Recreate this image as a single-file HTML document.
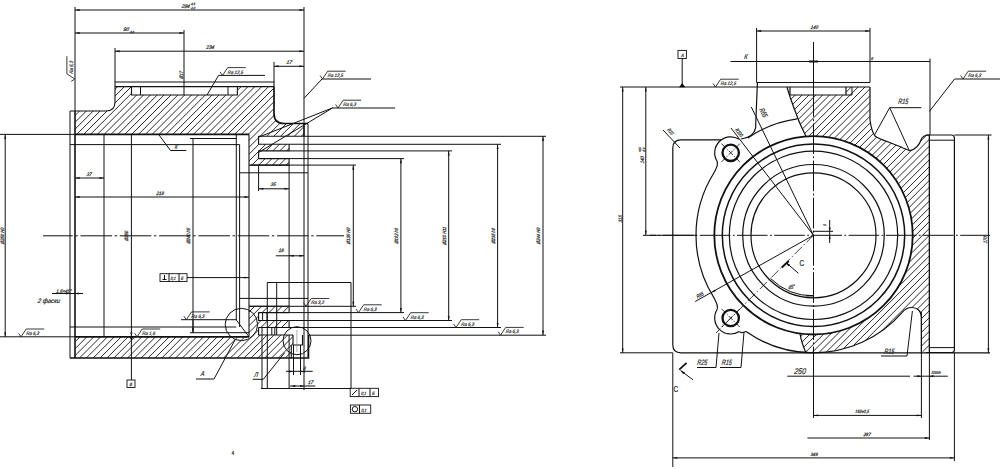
<!DOCTYPE html><html><head><meta charset="utf-8"><style>html,body{margin:0;padding:0;background:#fff;width:1000px;height:469px;overflow:hidden}svg{display:block;font-family:"Liberation Sans",sans-serif}</style></head><body><svg width="1000" height="469" viewBox="0 0 1000 469"><defs><clipPath id="c1"><path d="M75,111 L106,111 Q115,111 115,102 L115,86.6 L131.5,86.6 L131.5,95 L237.4,95 L237.4,86.6 L274,86.6 L274,113.5 Q274,123.5 284,123.5 L304,123.5 L304,136.3 L258.6,136.3 L258.6,144.3 L289.1,144.3 L289.1,150.9 L258.6,150.9 L258.6,158.6 L289.1,158.6 L289.1,165.1 L249,165.1 L249,134.4 L75,134.4 Z"/></clipPath><clipPath id="c2"><path d="M75,336.8 L249,336.8 L249,306.3 L289.1,306.3 L289.1,312.6 L258.6,312.6 L258.6,320.5 L289.1,320.5 L289.1,327.5 L258.6,327.5 L258.6,335 L293,335 L293,345 L291.3,345 L291.3,358 L75,358 Z"/></clipPath><clipPath id="c3"><path d="M787,87 L790,95 L846,95 L846,87 L870,87 L870,120 C871,128 872,132 875,136 C880,140 893,143 903,148 L910,150.7 C916,149 919,146 921,140 C922,137 924,135 929.4,135 L929.4,353 L926,353 C923,353 921.4,351 921.4,348 L921.4,317 C921.4,311 917,307.5 912,307.5 C907,307.5 904,310 902,312.6 A117.5,117.5 0 0 1 813.5,352.8 L806,353 C803,346 801,340 800,333.58 A99.2,99.2 0 1 0 806,136.38 C802,128 798,120 797,116 C794,108 790,98 787,87 Z"/></clipPath></defs><rect width="1000" height="469" fill="#fff"/><line x1="75" y1="7" x2="75" y2="111" stroke="#111" stroke-width="1.0"/>
<line x1="304" y1="7" x2="304" y2="123.5" stroke="#111" stroke-width="1.0"/>
<line x1="75" y1="10" x2="304" y2="10" stroke="#111" stroke-width="1.0"/>
<polygon points="75,10 79.60,9.05 79.60,10.95" fill="#111"/>
<polygon points="304,10 299.40,10.95 299.40,9.05" fill="#111"/>
<text x="0" y="0" font-size="5.2" text-anchor="middle" fill="#333" stroke="#333" stroke-width="0.25" style="font-style:italic;" transform="translate(185.5 7.8) scale(0.95 1) skewX(-10)">284</text>
<text x="0" y="0" font-size="3.2" text-anchor="start" fill="#333" stroke="#333" stroke-width="0.25" style="font-style:italic;" transform="translate(190.5 4.8) scale(0.82 1) skewX(-10)">-0,5</text>
<text x="0" y="0" font-size="3.2" text-anchor="start" fill="#333" stroke="#333" stroke-width="0.25" style="font-style:italic;" transform="translate(190.5 9.3) scale(0.82 1) skewX(-10)">-1,0</text>
<line x1="75" y1="33" x2="184" y2="33" stroke="#111" stroke-width="1.0"/>
<polygon points="75,33 79.60,32.05 79.60,33.95" fill="#111"/>
<polygon points="184,33 179.40,33.95 179.40,32.05" fill="#111"/>
<line x1="184" y1="30" x2="184" y2="95" stroke="#111" stroke-width="1.0"/>
<text x="0" y="0" font-size="5.2" text-anchor="middle" fill="#333" stroke="#333" stroke-width="0.25" style="font-style:italic;" transform="translate(126 31) scale(0.95 1) skewX(-10)">90</text>
<text x="0" y="0" font-size="3.2" text-anchor="start" fill="#333" stroke="#333" stroke-width="0.25" style="font-style:italic;" transform="translate(129.5 32.5) scale(0.82 1) skewX(-10)">-0,4</text>
<line x1="115" y1="51.2" x2="304" y2="51.2" stroke="#111" stroke-width="1.0"/>
<polygon points="115,51.2 119.60,50.25 119.60,52.15" fill="#111"/>
<polygon points="304,51.2 299.40,52.15 299.40,50.25" fill="#111"/>
<line x1="115" y1="48" x2="115" y2="82" stroke="#111" stroke-width="1.0"/>
<text x="0" y="0" font-size="5.2" text-anchor="middle" fill="#333" stroke="#333" stroke-width="0.25" style="font-style:italic;" transform="translate(210 49) scale(0.95 1) skewX(-10)">234</text>
<line x1="274" y1="66.3" x2="304" y2="66.3" stroke="#111" stroke-width="1.0"/>
<polygon points="274,66.3 278.60,65.35 278.60,67.25" fill="#111"/>
<polygon points="304,66.3 299.40,67.25 299.40,65.35" fill="#111"/>
<line x1="274" y1="62" x2="274" y2="82" stroke="#111" stroke-width="1.0"/>
<text x="0" y="0" font-size="5.2" text-anchor="middle" fill="#333" stroke="#333" stroke-width="0.25" style="font-style:italic;" transform="translate(289 64) scale(0.95 1) skewX(-10)">17</text>
<text x="0" y="0" font-size="5" text-anchor="start" fill="#333" stroke="#333" stroke-width="0.25" style="font-style:italic;" transform="translate(183 79) rotate(-90) scale(0.82 1) skewX(-10)">Ø17</text>
<g transform="rotate(-90 74.7 79)"><polyline points="72.3,75.5 74.7,79 79.9,71.2 97.5,71.2" fill="none" stroke="#222" stroke-width="0.9"/><text x="0" y="0" font-size="4.9" style="font-style:italic" fill="#333" stroke="#333" stroke-width="0.2" transform="translate(79.7 77.1) scale(0.9 1) skewX(-10)">Ra 6,3</text></g>
<path clip-path="url(#c1)" d="M-450.64,600L249.36,-100M-443.78,600L256.22,-100M-436.92,600L263.08,-100M-430.06,600L269.94,-100M-423.20,600L276.80,-100M-416.34,600L283.66,-100M-409.48,600L290.52,-100M-402.62,600L297.38,-100M-395.76,600L304.24,-100M-388.90,600L311.10,-100M-382.04,600L317.96,-100M-375.18,600L324.82,-100M-368.32,600L331.68,-100M-361.46,600L338.54,-100M-354.60,600L345.40,-100M-347.74,600L352.26,-100M-340.88,600L359.12,-100M-334.02,600L365.98,-100M-327.16,600L372.84,-100M-320.30,600L379.70,-100M-313.44,600L386.56,-100M-306.58,600L393.42,-100M-299.72,600L400.28,-100M-292.86,600L407.14,-100M-286.00,600L414.00,-100M-279.14,600L420.86,-100M-272.28,600L427.72,-100M-265.42,600L434.58,-100M-258.56,600L441.44,-100M-251.70,600L448.30,-100M-244.84,600L455.16,-100M-237.98,600L462.02,-100M-231.12,600L468.88,-100M-224.26,600L475.74,-100M-217.40,600L482.60,-100M-210.54,600L489.46,-100M-203.68,600L496.32,-100M-196.82,600L503.18,-100M-189.96,600L510.04,-100M-183.10,600L516.90,-100M-176.24,600L523.76,-100M-169.38,600L530.62,-100M-162.52,600L537.48,-100M-155.66,600L544.34,-100M-148.80,600L551.20,-100M-141.94,600L558.06,-100M-135.08,600L564.92,-100M-128.22,600L571.78,-100M-121.36,600L578.64,-100M-114.50,600L585.50,-100" stroke="#2a2a2a" stroke-width="1.0" fill="none"/>
<path clip-path="url(#c2)" d="M-224.26,600L475.74,-100M-217.40,600L482.60,-100M-210.54,600L489.46,-100M-203.68,600L496.32,-100M-196.82,600L503.18,-100M-189.96,600L510.04,-100M-183.10,600L516.90,-100M-176.24,600L523.76,-100M-169.38,600L530.62,-100M-162.52,600L537.48,-100M-155.66,600L544.34,-100M-148.80,600L551.20,-100M-141.94,600L558.06,-100M-135.08,600L564.92,-100M-128.22,600L571.78,-100M-121.36,600L578.64,-100M-114.50,600L585.50,-100M-107.64,600L592.36,-100M-100.78,600L599.22,-100M-93.92,600L606.08,-100M-87.06,600L612.94,-100M-80.20,600L619.80,-100M-73.34,600L626.66,-100M-66.48,600L633.52,-100M-59.62,600L640.38,-100M-52.76,600L647.24,-100M-45.90,600L654.10,-100M-39.04,600L660.96,-100M-32.18,600L667.82,-100M-25.32,600L674.68,-100M-18.46,600L681.54,-100M-11.60,600L688.40,-100M-4.74,600L695.26,-100M2.12,600L702.12,-100M8.98,600L708.98,-100M15.84,600L715.84,-100M22.70,600L722.70,-100M29.56,600L729.56,-100M36.42,600L736.42,-100M43.28,600L743.28,-100M50.14,600L750.14,-100M57.00,600L757.00,-100M63.86,600L763.86,-100M70.72,600L770.72,-100M77.58,600L777.58,-100M84.44,600L784.44,-100" stroke="#2a2a2a" stroke-width="1.0" fill="none"/>
<line x1="70" y1="111" x2="70" y2="358" stroke="#111" stroke-width="1.0"/>
<path d="M70,111 L106,111 Q115,111 115,102 L115,86.6" fill="none" stroke="#111" stroke-width="1.1"/>
<path d="M115,86.6 L115,82 L274,82 L274,86.6" fill="none" stroke="#111" stroke-width="1.1"/>
<path d="M274,86.6 L274,113.5 Q274,123.5 284,123.5 L308,123.5" fill="none" stroke="#111" stroke-width="1.7"/>
<path d="M70,358 L308.6,358 L308.6,335" fill="none" stroke="#111" stroke-width="1.4"/>
<line x1="115" y1="86.6" x2="274" y2="86.6" stroke="#111" stroke-width="1.1"/>
<polyline points="131.5,86.6 131.5,95 237.4,95 237.4,86.6" fill="none" stroke="#111" stroke-width="1.1" stroke-linejoin="round"/>
<line x1="140.5" y1="86.6" x2="140.5" y2="95" stroke="#111" stroke-width="1.0"/>
<line x1="228" y1="86.6" x2="228" y2="95" stroke="#111" stroke-width="1.0"/>
<line x1="75" y1="111" x2="75" y2="358" stroke="#111" stroke-width="1.6"/>
<line x1="75" y1="134.4" x2="249" y2="134.4" stroke="#111" stroke-width="1.7"/>
<line x1="75" y1="336.8" x2="249" y2="336.8" stroke="#111" stroke-width="1.7"/>
<line x1="70" y1="144.6" x2="239.6" y2="144.6" stroke="#111" stroke-width="1.0"/>
<line x1="70" y1="327" x2="236.3" y2="327" stroke="#111" stroke-width="1.0"/>
<line x1="190" y1="138.5" x2="236.3" y2="138.5" stroke="#111" stroke-width="1.0"/>
<line x1="190" y1="332.7" x2="249" y2="332.7" stroke="#111" stroke-width="1.0"/>
<line x1="236.3" y1="134.4" x2="236.3" y2="320" stroke="#111" stroke-width="1.0"/>
<line x1="239.6" y1="144.6" x2="239.6" y2="327" stroke="#111" stroke-width="1.0"/>
<line x1="249" y1="134.4" x2="249" y2="336.8" stroke="#111" stroke-width="1.1"/>
<line x1="236.3" y1="320" x2="249" y2="336.8" stroke="#111" stroke-width="1.0"/>
<line x1="104" y1="134.4" x2="104" y2="336.8" stroke="#111" stroke-width="1.0"/>
<line x1="131.4" y1="134.4" x2="131.4" y2="380" stroke="#111" stroke-width="1.0"/>
<line x1="193" y1="138.5" x2="193" y2="332.7" stroke="#111" stroke-width="1.0"/>
<line x1="304" y1="123.5" x2="304" y2="136.3" stroke="#111" stroke-width="1.7"/>
<line x1="308" y1="123.5" x2="308" y2="358" stroke="#111" stroke-width="1.0"/>
<line x1="304" y1="136.3" x2="304" y2="390" stroke="#111" stroke-width="1.0"/>
<polyline points="304,136.3 258.6,136.3 258.6,144.3 304,144.3" fill="none" stroke="#111" stroke-width="1.1" stroke-linejoin="round"/>
<polyline points="289.1,144.3 289.1,150.9 258.6,150.9 258.6,158.6 289.1,158.6 289.1,165.1 249,165.1" fill="none" stroke="#111" stroke-width="1.1" stroke-linejoin="round"/>
<line x1="258.6" y1="165.1" x2="258.6" y2="191" stroke="#111" stroke-width="1.0"/>
<line x1="239.6" y1="172.8" x2="308" y2="172.8" stroke="#111" stroke-width="1.0"/>
<line x1="239.6" y1="298.4" x2="308" y2="298.4" stroke="#111" stroke-width="1.0"/>
<line x1="289.1" y1="165.1" x2="289.1" y2="306.3" stroke="#111" stroke-width="1.0"/>
<polyline points="249,306.3 289.1,306.3 289.1,312.6 258.6,312.6 258.6,320.5 289.1,320.5 289.1,327.5" fill="none" stroke="#111" stroke-width="1.1" stroke-linejoin="round"/>
<polyline points="308.6,327.5 258.6,327.5 258.6,335 293,335" fill="none" stroke="#111" stroke-width="1.1" stroke-linejoin="round"/>
<polyline points="293,335 293,345 302.5,345 302.5,335" fill="none" stroke="#111" stroke-width="1.1" stroke-linejoin="round"/>
<line x1="291.3" y1="345" x2="291.3" y2="358" stroke="#111" stroke-width="1.1"/>
<line x1="262.6" y1="312.6" x2="262.6" y2="320.5" stroke="#111" stroke-width="1.0"/>
<line x1="267" y1="312.6" x2="267" y2="320.5" stroke="#111" stroke-width="1.0"/>
<line x1="271.8" y1="327.5" x2="271.8" y2="335" stroke="#111" stroke-width="1.0"/>
<line x1="274.8" y1="327.5" x2="274.8" y2="335" stroke="#111" stroke-width="1.0"/>
<line x1="262" y1="327.5" x2="262" y2="388.5" stroke="#111" stroke-width="1.0"/>
<line x1="296.9" y1="330" x2="296.9" y2="352" stroke="#777" stroke-width="0.6"/>
<line x1="304" y1="136.3" x2="546" y2="136.3" stroke="#111" stroke-width="1.0"/>
<line x1="304" y1="144.3" x2="501" y2="144.3" stroke="#111" stroke-width="1.0"/>
<line x1="289.1" y1="150.9" x2="452" y2="150.9" stroke="#111" stroke-width="1.0"/>
<line x1="289.1" y1="158.6" x2="404" y2="158.6" stroke="#111" stroke-width="1.0"/>
<line x1="250.5" y1="165.1" x2="356" y2="165.1" stroke="#111" stroke-width="1.0"/>
<line x1="249" y1="306.3" x2="356" y2="306.3" stroke="#111" stroke-width="1.0"/>
<line x1="289.1" y1="312.6" x2="404" y2="312.6" stroke="#111" stroke-width="1.0"/>
<line x1="289.1" y1="320.5" x2="452" y2="320.5" stroke="#111" stroke-width="1.0"/>
<line x1="308.6" y1="327.5" x2="501" y2="327.5" stroke="#111" stroke-width="1.0"/>
<line x1="308.6" y1="335.2" x2="546" y2="335.2" stroke="#111" stroke-width="1.0"/>
<line x1="353.3" y1="165.1" x2="353.3" y2="306.3" stroke="#111" stroke-width="1.0"/>
<polygon points="353.3,165.1 354.25,169.70 352.35,169.70" fill="#111"/>
<polygon points="353.3,306.3 352.35,301.70 354.25,301.70" fill="#111"/>
<line x1="400.9" y1="158.6" x2="400.9" y2="312.6" stroke="#111" stroke-width="1.0"/>
<polygon points="400.9,158.6 401.85,163.20 399.95,163.20" fill="#111"/>
<polygon points="400.9,312.6 399.95,308.00 401.85,308.00" fill="#111"/>
<line x1="448.7" y1="150.9" x2="448.7" y2="320.5" stroke="#111" stroke-width="1.0"/>
<polygon points="448.7,150.9 449.65,155.50 447.75,155.50" fill="#111"/>
<polygon points="448.7,320.5 447.75,315.90 449.65,315.90" fill="#111"/>
<line x1="497.6" y1="144.3" x2="497.6" y2="327.5" stroke="#111" stroke-width="1.0"/>
<polygon points="497.6,144.3 498.55,148.90 496.65,148.90" fill="#111"/>
<polygon points="497.6,327.5 496.65,322.90 498.55,322.90" fill="#111"/>
<line x1="543" y1="136.3" x2="543" y2="335.2" stroke="#111" stroke-width="1.0"/>
<polygon points="543,136.3 543.95,140.90 542.05,140.90" fill="#111"/>
<polygon points="543,335.2 542.05,330.60 543.95,330.60" fill="#111"/>
<text x="0" y="0" font-size="4.8" text-anchor="middle" fill="#333" stroke="#333" stroke-width="0.25" style="font-style:italic;" transform="translate(350 236) rotate(-90) scale(0.85 1) skewX(-10)">Ø135 H9</text>
<text x="0" y="0" font-size="4.8" text-anchor="middle" fill="#333" stroke="#333" stroke-width="0.25" style="font-style:italic;" transform="translate(398 236) rotate(-90) scale(0.85 1) skewX(-10)">Ø192 h9</text>
<text x="0" y="0" font-size="4.8" text-anchor="middle" fill="#333" stroke="#333" stroke-width="0.25" style="font-style:italic;" transform="translate(446 236) rotate(-90) scale(0.85 1) skewX(-10)">Ø210 H11</text>
<text x="0" y="0" font-size="4.8" text-anchor="middle" fill="#333" stroke="#333" stroke-width="0.25" style="font-style:italic;" transform="translate(494.5 236) rotate(-90) scale(0.85 1) skewX(-10)">Ø235 h9</text>
<text x="0" y="0" font-size="4.8" text-anchor="middle" fill="#333" stroke="#333" stroke-width="0.25" style="font-style:italic;" transform="translate(540 236) rotate(-90) scale(0.85 1) skewX(-10)">Ø244 H9</text>
<line x1="0" y1="134.4" x2="75" y2="134.4" stroke="#111" stroke-width="1.0"/>
<line x1="5.2" y1="134.4" x2="5.2" y2="336.8" stroke="#111" stroke-width="1.0"/>
<polygon points="5.2,134.4 6.15,139.00 4.25,139.00" fill="#111"/>
<polygon points="5.2,336.8 4.25,332.20 6.15,332.20" fill="#111"/>
<text x="0" y="0" font-size="4.8" text-anchor="middle" fill="#333" stroke="#333" stroke-width="0.25" style="font-style:italic;" transform="translate(4 236) rotate(-90) scale(0.85 1) skewX(-10)">Ø250 H9</text>
<text x="0" y="0" font-size="4.8" text-anchor="middle" fill="#333" stroke="#333" stroke-width="0.25" style="font-style:italic;" transform="translate(128 236) rotate(-90) scale(0.85 1) skewX(-10)">Ø250</text>
<text x="0" y="0" font-size="4.8" text-anchor="middle" fill="#333" stroke="#333" stroke-width="0.25" style="font-style:italic;" transform="translate(190 236) rotate(-90) scale(0.85 1) skewX(-10)">Ø240 h5</text>
<line x1="75" y1="178" x2="104" y2="178" stroke="#111" stroke-width="1.0"/>
<polygon points="75,178 79.60,177.05 79.60,178.95" fill="#111"/>
<polygon points="104,178 99.40,178.95 99.40,177.05" fill="#111"/>
<text x="0" y="0" font-size="5" text-anchor="middle" fill="#333" stroke="#333" stroke-width="0.25" style="font-style:italic;" transform="translate(89 175.5) scale(0.9 1) skewX(-10)">37</text>
<line x1="75" y1="197" x2="249" y2="197" stroke="#111" stroke-width="1.0"/>
<polygon points="75,197 79.60,196.05 79.60,197.95" fill="#111"/>
<polygon points="249,197 244.40,197.95 244.40,196.05" fill="#111"/>
<text x="0" y="0" font-size="5" text-anchor="middle" fill="#333" stroke="#333" stroke-width="0.25" style="font-style:italic;" transform="translate(160 194.5) scale(0.9 1) skewX(-10)">218</text>
<line x1="258.8" y1="188.8" x2="289.1" y2="188.8" stroke="#111" stroke-width="1.0"/>
<polygon points="258.8,188.8 263.40,187.85 263.40,189.75" fill="#111"/>
<polygon points="289.1,188.8 284.50,189.75 284.50,187.85" fill="#111"/>
<text x="0" y="0" font-size="5" text-anchor="middle" fill="#333" stroke="#333" stroke-width="0.25" style="font-style:italic;" transform="translate(273 186.3) scale(0.9 1) skewX(-10)">35</text>
<line x1="275.8" y1="255.8" x2="304" y2="255.8" stroke="#111" stroke-width="1.0"/>
<polygon points="289.1,255.8 293.70,254.85 293.70,256.75" fill="#111"/>
<polygon points="304,255.8 299.40,256.75 299.40,254.85" fill="#111"/>
<text x="0" y="0" font-size="5" text-anchor="middle" fill="#333" stroke="#333" stroke-width="0.25" style="font-style:italic;" transform="translate(281 252) scale(0.9 1) skewX(-10)">18</text>
<line x1="43" y1="235.8" x2="344" y2="235.8" stroke="#111" stroke-width="1.0" stroke-dasharray="31.5,2.7,2.4,2.7" stroke-dashoffset="1.8"/>
<line x1="52" y1="293.5" x2="83" y2="293.5" stroke="#111" stroke-width="1.0"/>
<polygon points="70,293.5 66.00,294.50 66.00,292.50" fill="#111"/>
<polygon points="75,293.5 79.00,292.50 79.00,294.50" fill="#111"/>
<text x="0" y="0" font-size="5.2" text-anchor="start" fill="#333" stroke="#333" stroke-width="0.25" style="font-style:italic;" transform="translate(56 292.6) scale(0.85 1) skewX(-10)">1,6×45°</text>
<text x="0" y="0" font-size="6.5" text-anchor="start" fill="#333" stroke="#333" stroke-width="0.25" style="font-style:italic;" transform="translate(37.5 302.8) scale(0.92 1) skewX(-10)">2 фаски</text>
<rect x="160" y="273.7" width="27" height="7.8" fill="none" stroke="#111" stroke-width="0.9"/>
<line x1="169" y1="273.7" x2="169" y2="281.5" stroke="#111" stroke-width="1.0"/>
<line x1="179" y1="273.7" x2="179" y2="281.5" stroke="#111" stroke-width="1.0"/>
<line x1="162.5" y1="279.5" x2="166.5" y2="279.5" stroke="#111" stroke-width="1.0"/>
<line x1="164.5" y1="275" x2="164.5" y2="279.5" stroke="#111" stroke-width="1.0"/>
<text x="0" y="0" font-size="4.6" text-anchor="start" fill="#333" stroke="#333" stroke-width="0.25" style="font-style:italic;" transform="translate(170.5 280.2) scale(0.8 1) skewX(-10)">0,1</text>
<text x="0" y="0" font-size="4.6" text-anchor="start" fill="#333" stroke="#333" stroke-width="0.25" style="font-style:italic;" transform="translate(180.8 280.2) scale(0.8 1) skewX(-10)">Б</text>
<line x1="187" y1="277.6" x2="249" y2="277.6" stroke="#111" stroke-width="1.0"/>
<polygon points="249,277.6 244.40,278.55 244.40,276.65" fill="#111"/>
<rect x="127" y="380" width="8" height="7.5" fill="none" stroke="#111" stroke-width="0.9"/>
<text x="0" y="0" font-size="4.5" text-anchor="start" fill="#333" stroke="#333" stroke-width="0.25" style="font-style:italic;" transform="translate(129.5 386) scale(0.82 1) skewX(-10)">Б</text>
<polygon points="129.2,336.8 133.4,336.8 131.3,340.2" fill="#111"/>
<polygon points="131.4,336.5 130.30,332.50 132.50,332.50" fill="#111"/>
<line x1="0" y1="336.8" x2="75" y2="336.8" stroke="#111" stroke-width="1.0"/>
<g><polyline points="18.6,333.3 21,336.8 26.2,329.0 44.2,329.0" fill="none" stroke="#222" stroke-width="0.9"/><text x="0" y="0" font-size="4.9" style="font-style:italic" fill="#333" stroke="#333" stroke-width="0.2" transform="translate(26 334.90000000000003) scale(0.9 1) skewX(-10)">Ra 6,3</text></g>
<g><polyline points="134.6,333.3 137,336.8 142.2,329.0 160.2,329.0" fill="none" stroke="#222" stroke-width="0.9"/><text x="0" y="0" font-size="4.9" style="font-style:italic" fill="#333" stroke="#333" stroke-width="0.2" transform="translate(142 334.90000000000003) scale(0.9 1) skewX(-10)">Ra 1,6</text></g>
<line x1="181" y1="319.7" x2="236.3" y2="319.7" stroke="#111" stroke-width="1.0"/>
<g><polyline points="183.9,316.2 186.3,319.7 191.5,311.9 209.5,311.9" fill="none" stroke="#222" stroke-width="0.9"/><text x="0" y="0" font-size="4.9" style="font-style:italic" fill="#333" stroke="#333" stroke-width="0.2" transform="translate(191.3 317.8) scale(0.9 1) skewX(-10)">Ra 6,3</text></g>
<line x1="193" y1="320" x2="193" y2="332.7" stroke="#111" stroke-width="1.0"/>
<polygon points="193,332.7 192.05,328.10 193.95,328.10" fill="#111"/>
<circle cx="241.4" cy="324.5" r="16.2" fill="none" stroke="#111" stroke-width="1.0"/>
<line x1="235" y1="340" x2="214" y2="379" stroke="#111" stroke-width="1.0"/>
<line x1="196" y1="379" x2="214" y2="379" stroke="#111" stroke-width="1.0"/>
<text x="0" y="0" font-size="7" text-anchor="start" fill="#333" stroke="#333" stroke-width="0.25" style="font-style:italic;" transform="translate(200.5 376) scale(0.8 1) skewX(-10)">А</text>
<circle cx="297" cy="340.7" r="14" fill="none" stroke="#111" stroke-width="1.0"/>
<line x1="284.7" y1="352.7" x2="263.3" y2="379.3" stroke="#111" stroke-width="1.0"/>
<line x1="252.7" y1="379.3" x2="263.3" y2="379.3" stroke="#111" stroke-width="1.0"/>
<text x="0" y="0" font-size="7" text-anchor="start" fill="#333" stroke="#333" stroke-width="0.25" style="font-style:italic;" transform="translate(254 376.5) scale(0.8 1) skewX(-10)">Л</text>
<line x1="286" y1="371.3" x2="312.7" y2="371.3" stroke="#111" stroke-width="1.0"/>
<polygon points="293.5,371.5 288.90,372.45 288.90,370.55" fill="#111"/>
<polygon points="300.5,371.5 305.10,370.55 305.10,372.45" fill="#111"/>
<text x="0" y="0" font-size="5" text-anchor="start" fill="#333" stroke="#333" stroke-width="0.25" style="font-style:italic;" transform="translate(303 369.5) scale(0.9 1) skewX(-10)">8</text>
<line x1="293.5" y1="345" x2="293.5" y2="375" stroke="#111" stroke-width="1.0"/>
<line x1="300.5" y1="345" x2="300.5" y2="375" stroke="#111" stroke-width="1.0"/>
<line x1="290" y1="386" x2="315.3" y2="386" stroke="#111" stroke-width="1.0"/>
<polygon points="291.3,386 295.30,384.90 295.30,387.10" fill="#111"/>
<polygon points="304,386 300.00,387.10 300.00,384.90" fill="#111"/>
<text x="0" y="0" font-size="5" text-anchor="start" fill="#333" stroke="#333" stroke-width="0.25" style="font-style:italic;" transform="translate(308 383.5) scale(0.9 1) skewX(-10)">17</text>
<g><polyline points="303.6,302.8 306,306.3 311.2,298.5 329.2,298.5" fill="none" stroke="#222" stroke-width="0.9"/><text x="0" y="0" font-size="4.9" style="font-style:italic" fill="#333" stroke="#333" stroke-width="0.2" transform="translate(311 304.40000000000003) scale(0.9 1) skewX(-10)">Ra 3,2</text></g>
<g><polyline points="356.1,309.1 358.5,312.6 363.7,304.8 381.7,304.8" fill="none" stroke="#222" stroke-width="0.9"/><text x="0" y="0" font-size="4.9" style="font-style:italic" fill="#333" stroke="#333" stroke-width="0.2" transform="translate(363.5 310.70000000000005) scale(0.9 1) skewX(-10)">Ra 6,3</text></g>
<g><polyline points="403.1,317.0 405.5,320.5 410.7,312.7 428.7,312.7" fill="none" stroke="#222" stroke-width="0.9"/><text x="0" y="0" font-size="4.9" style="font-style:italic" fill="#333" stroke="#333" stroke-width="0.2" transform="translate(410.5 318.6) scale(0.9 1) skewX(-10)">Ra 6,3</text></g>
<g><polyline points="453.6,324.0 456,327.5 461.2,319.7 479.2,319.7" fill="none" stroke="#222" stroke-width="0.9"/><text x="0" y="0" font-size="4.9" style="font-style:italic" fill="#333" stroke="#333" stroke-width="0.2" transform="translate(461 325.6) scale(0.9 1) skewX(-10)">Ra 6,3</text></g>
<g><polyline points="498.1,331.7 500.5,335.2 505.7,327.4 523.7,327.4" fill="none" stroke="#222" stroke-width="0.9"/><text x="0" y="0" font-size="4.9" style="font-style:italic" fill="#333" stroke="#333" stroke-width="0.2" transform="translate(505.5 333.3) scale(0.9 1) skewX(-10)">Ra 6,3</text></g>
<polyline points="267.3,388.5 267.3,282.5 351,282.5 351,388.8" fill="none" stroke="#111" stroke-width="1.0" stroke-linejoin="round"/>
<line x1="276.7" y1="282.5" x2="276.7" y2="335" stroke="#111" stroke-width="1.0"/>
<line x1="289.1" y1="335" x2="289.1" y2="388.5" stroke="#111" stroke-width="1.0"/>
<rect x="350.2" y="388.3" width="28.3" height="8.3" fill="none" stroke="#111" stroke-width="0.9"/>
<line x1="359" y1="388.3" x2="359" y2="396.6" stroke="#111" stroke-width="1.0"/>
<line x1="370" y1="388.3" x2="370" y2="396.6" stroke="#111" stroke-width="1.0"/>
<line x1="352" y1="395" x2="357" y2="390" stroke="#111" stroke-width="1.0"/>
<text x="0" y="0" font-size="4.6" text-anchor="start" fill="#333" stroke="#333" stroke-width="0.25" style="font-style:italic;" transform="translate(361 395.3) scale(0.8 1) skewX(-10)">0,1</text>
<text x="0" y="0" font-size="4.6" text-anchor="start" fill="#333" stroke="#333" stroke-width="0.25" style="font-style:italic;" transform="translate(372 395.3) scale(0.8 1) skewX(-10)">Б</text>
<rect x="350.4" y="405" width="20.3" height="8.3" fill="none" stroke="#111" stroke-width="0.9"/>
<line x1="359.5" y1="405" x2="359.5" y2="413.3" stroke="#111" stroke-width="1.0"/>
<circle cx="354.9" cy="409.2" r="2.7" fill="none" stroke="#111" stroke-width="1.0"/>
<text x="0" y="0" font-size="4.6" text-anchor="start" fill="#333" stroke="#333" stroke-width="0.25" style="font-style:italic;" transform="translate(361.3 411.6) scale(0.8 1) skewX(-10)">0,1</text>
<line x1="261" y1="388.5" x2="350.2" y2="388.5" stroke="#111" stroke-width="1.0"/>
<line x1="304" y1="98.3" x2="322" y2="79" stroke="#111" stroke-width="1.0"/>
<line x1="322" y1="79" x2="371" y2="79" stroke="#111" stroke-width="1.0"/>
<g><polyline points="320.1,75.5 322.5,79 327.7,71.2 345.7,71.2" fill="none" stroke="#222" stroke-width="0.9"/><text x="0" y="0" font-size="4.9" style="font-style:italic" fill="#333" stroke="#333" stroke-width="0.2" transform="translate(327.5 77.1) scale(0.9 1) skewX(-10)">Ra 12,5</text></g>
<line x1="333" y1="108" x2="395" y2="108" stroke="#111" stroke-width="1.0"/>
<g><polyline points="335.6,104.5 338,108 343.2,100.2 361.2,100.2" fill="none" stroke="#222" stroke-width="0.9"/><text x="0" y="0" font-size="4.9" style="font-style:italic" fill="#333" stroke="#333" stroke-width="0.2" transform="translate(343 106.1) scale(0.9 1) skewX(-10)">Ra 6,3</text></g>
<line x1="332.8" y1="107.8" x2="259" y2="137" stroke="#111" stroke-width="1.0"/>
<line x1="332.8" y1="107.8" x2="259" y2="152.2" stroke="#111" stroke-width="1.0"/>
<line x1="207" y1="95" x2="218.6" y2="75.4" stroke="#111" stroke-width="1.0"/>
<line x1="218.6" y1="75.4" x2="265" y2="75.4" stroke="#111" stroke-width="1.0"/>
<g><polyline points="220.1,71.9 222.5,75.4 227.7,67.60000000000001 245.7,67.60000000000001" fill="none" stroke="#222" stroke-width="0.9"/><text x="0" y="0" font-size="4.9" style="font-style:italic" fill="#333" stroke="#333" stroke-width="0.2" transform="translate(227.5 73.5) scale(0.9 1) skewX(-10)">Ra 12,5</text></g>
<line x1="158.6" y1="134.4" x2="170.5" y2="150.5" stroke="#111" stroke-width="1.0"/>
<line x1="170.5" y1="150.5" x2="186.3" y2="150.5" stroke="#111" stroke-width="1.0"/>
<text x="0" y="0" font-size="6" text-anchor="start" fill="#333" stroke="#333" stroke-width="0.25" style="font-style:italic;" transform="translate(174.5 148.8) scale(0.8 1) skewX(-10)">К</text>
<text x="0" y="0" font-size="5" text-anchor="middle" fill="#333" stroke="#333" stroke-width="0.25" style="" transform="translate(233 455) scale(0.82 1)">4</text>
<line x1="756.6" y1="31" x2="870" y2="31" stroke="#111" stroke-width="1.0"/>
<polygon points="756.6,31 761.20,30.05 761.20,31.95" fill="#111"/>
<polygon points="870,31 865.40,31.95 865.40,30.05" fill="#111"/>
<text x="0" y="0" font-size="5" text-anchor="middle" fill="#333" stroke="#333" stroke-width="0.25" style="font-style:italic;" transform="translate(814.2 29.4) scale(0.86 1) skewX(-10)">140</text>
<line x1="756.6" y1="28" x2="756.6" y2="82.5" stroke="#111" stroke-width="1.0"/>
<line x1="870" y1="28" x2="870" y2="82.5" stroke="#111" stroke-width="1.0"/>
<line x1="730.5" y1="61.5" x2="930" y2="61.5" stroke="#111" stroke-width="1.0"/>
<line x1="930" y1="58.5" x2="930" y2="135" stroke="#111" stroke-width="1.0"/>
<text x="0" y="0" font-size="7" text-anchor="start" fill="#333" stroke="#333" stroke-width="0.25" style="font-style:italic;" transform="translate(744 59) scale(0.8 1) skewX(-10)">К</text>
<text x="0" y="0" font-size="5" text-anchor="start" fill="#333" stroke="#333" stroke-width="0.25" style="font-style:italic;" transform="translate(871 60) scale(0.82 1) skewX(-10)">к</text>
<line x1="809" y1="61.5" x2="818" y2="61.5" stroke="#111" stroke-width="2"/>
<rect x="678" y="50.4" width="8.4" height="8.1" fill="#fff" stroke="#111" stroke-width="0.9"/>
<text x="0" y="0" font-size="4.8" text-anchor="middle" fill="#333" stroke="#333" stroke-width="0.25" style="font-style:italic;" transform="translate(682.2 57) scale(0.82 1) skewX(-10)">А</text>
<line x1="682.2" y1="58.5" x2="682.2" y2="87" stroke="#111" stroke-width="1.0"/>
<polygon points="682.2,83 679,87.2 685.4,87.2" fill="#111"/>
<line x1="620" y1="87" x2="756.6" y2="87" stroke="#111" stroke-width="1.0"/>
<g><polyline points="713.1,83.5 715.5,87 720.7,79.2 738.7,79.2" fill="none" stroke="#222" stroke-width="0.9"/><text x="0" y="0" font-size="4.9" style="font-style:italic" fill="#333" stroke="#333" stroke-width="0.2" transform="translate(720.5 85.1) scale(0.9 1) skewX(-10)">Ra 12,5</text></g>
<line x1="622.7" y1="87" x2="622.7" y2="353" stroke="#111" stroke-width="1.0"/>
<polygon points="622.7,87 623.65,91.60 621.75,91.60" fill="#111"/>
<polygon points="622.7,353 621.75,348.40 623.65,348.40" fill="#111"/>
<text x="0" y="0" font-size="5" text-anchor="middle" fill="#333" stroke="#333" stroke-width="0.25" style="font-style:italic;" transform="translate(621.5 219) rotate(-90) scale(0.86 1) skewX(-10)">315</text>
<line x1="645.8" y1="87" x2="645.8" y2="235" stroke="#111" stroke-width="1.0"/>
<polygon points="645.8,87 646.75,91.60 644.85,91.60" fill="#111"/>
<polygon points="645.8,235 644.85,230.40 646.75,230.40" fill="#111"/>
<text x="0" y="0" font-size="5" text-anchor="middle" fill="#333" stroke="#333" stroke-width="0.25" style="font-style:italic;" transform="translate(644 160) rotate(-90) scale(0.86 1) skewX(-10)">140</text>
<text x="0" y="0" font-size="3.2" text-anchor="middle" fill="#333" stroke="#333" stroke-width="0.25" style="font-style:italic;" transform="translate(640.5 150) rotate(-90) scale(0.82 1) skewX(-10)">+0,5</text>
<text x="0" y="0" font-size="3.2" text-anchor="middle" fill="#333" stroke="#333" stroke-width="0.25" style="font-style:italic;" transform="translate(644.5 150) rotate(-90) scale(0.82 1) skewX(-10)">-0,3</text>
<path clip-path="url(#c3)" d="M249.08,600L949.08,-100M255.94,600L955.94,-100M262.80,600L962.80,-100M269.66,600L969.66,-100M276.52,600L976.52,-100M283.38,600L983.38,-100M290.24,600L990.24,-100M297.10,600L997.10,-100M303.96,600L1003.96,-100M310.82,600L1010.82,-100M317.68,600L1017.68,-100M324.54,600L1024.54,-100M331.40,600L1031.40,-100M338.26,600L1038.26,-100M345.12,600L1045.12,-100M351.98,600L1051.98,-100M358.84,600L1058.84,-100M365.70,600L1065.70,-100M372.56,600L1072.56,-100M379.42,600L1079.42,-100M386.28,600L1086.28,-100M393.14,600L1093.14,-100M400.00,600L1100.00,-100M406.86,600L1106.86,-100M413.72,600L1113.72,-100M420.58,600L1120.58,-100M427.44,600L1127.44,-100M434.30,600L1134.30,-100M441.16,600L1141.16,-100M448.02,600L1148.02,-100M454.88,600L1154.88,-100M461.74,600L1161.74,-100M468.60,600L1168.60,-100M475.46,600L1175.46,-100M482.32,600L1182.32,-100M489.18,600L1189.18,-100M496.04,600L1196.04,-100M502.90,600L1202.90,-100M509.76,600L1209.76,-100M516.62,600L1216.62,-100M523.48,600L1223.48,-100M530.34,600L1230.34,-100M537.20,600L1237.20,-100M544.06,600L1244.06,-100M550.92,600L1250.92,-100M557.78,600L1257.78,-100M564.64,600L1264.64,-100M571.50,600L1271.50,-100M578.36,600L1278.36,-100M585.22,600L1285.22,-100M592.08,600L1292.08,-100M598.94,600L1298.94,-100M605.80,600L1305.80,-100M612.66,600L1312.66,-100M619.52,600L1319.52,-100M626.38,600L1326.38,-100M633.24,600L1333.24,-100M640.10,600L1340.10,-100M646.96,600L1346.96,-100M653.82,600L1353.82,-100M660.68,600L1360.68,-100M667.54,600L1367.54,-100M674.40,600L1374.40,-100M681.26,600L1381.26,-100M688.12,600L1388.12,-100M694.98,600L1394.98,-100M701.84,600L1401.84,-100" stroke="#2a2a2a" stroke-width="1.0" fill="none"/>
<path d="M787,87 C790,98 794,108 797,116 C798,120 802,128 806,136.38" fill="none" stroke="#111" stroke-width="1.2"/>
<path d="M800,333.58 C801,340 803,346 806,353" fill="none" stroke="#111" stroke-width="1.2"/>
<path d="M756.6,87 L870,87" fill="none" stroke="#111" stroke-width="1.2"/>
<line x1="756.6" y1="82.5" x2="870" y2="82.5" stroke="#111" stroke-width="1.2"/>
<polyline points="790,87 790,95 846,95 846,87" fill="none" stroke="#111" stroke-width="1.2" stroke-linejoin="round"/>
<polyline points="846,95 852,95 852,87" fill="none" stroke="#111" stroke-width="1.0" stroke-linejoin="round"/>
<path d="M870,87 L870,120 C871,128 872,132 875,136 C880,140 893,143 903,148 L910,150.7 C916,149 919,146 921,140 C922,137 924,135 929.4,135" fill="none" stroke="#111" stroke-width="1.2"/>
<line x1="929.4" y1="135" x2="929.4" y2="440" stroke="#111" stroke-width="1.0"/>
<line x1="929.4" y1="135" x2="929.4" y2="353" stroke="#111" stroke-width="1.2"/>
<path d="M926,135 L951.5,135 Q954.4,135 954.4,138 L954.4,350 Q954.4,352.5 951.5,352.5 L926,352.5" fill="none" stroke="#111" stroke-width="1.2"/>
<line x1="929.4" y1="140.2" x2="954.4" y2="140.2" stroke="#111" stroke-width="1.0"/>
<line x1="929.4" y1="347.6" x2="954.4" y2="347.6" stroke="#111" stroke-width="1.0"/>
<path d="M921.4,353 L921.4,317 C921.4,311 917,307.5 912,307.5 C907,307.5 904,310 902,312.6" fill="none" stroke="#111" stroke-width="1.2"/>
<circle cx="813.5" cy="235.3" r="99.2" fill="none" stroke="#111" stroke-width="1.8"/>
<circle cx="813.5" cy="235.3" r="91.2" fill="none" stroke="#111" stroke-width="1.5"/>
<circle cx="813.5" cy="235.3" r="84.2" fill="none" stroke="#111" stroke-width="1.2"/>
<circle cx="813.5" cy="235.3" r="70.8" fill="none" stroke="#111" stroke-width="1.2"/>
<circle cx="813.5" cy="235.3" r="62.5" fill="none" stroke="#111" stroke-width="1.2"/>
<path d="M797.01,118.96 A117.5,117.5 0 0 0 747.79,137.89" fill="none" stroke="#111" stroke-width="1.2"/>
<path d="M713.85,173.03 A117.5,117.5 0 0 0 713.85,297.57" fill="none" stroke="#111" stroke-width="1.2"/>
<path d="M746.10,331.55 A117.5,117.5 0 0 0 813.50,352.80" fill="none" stroke="#111" stroke-width="1.2"/>
<path d="M813.5,352.8 A117.5,117.5 0 0 0 902,312.6" fill="none" stroke="#111" stroke-width="1.2"/>
<path d="M757.4,82.5 L755.6,127.8 Q754,137 741,139" fill="none" stroke="#111" stroke-width="1.2"/>
<path d="M672.8,235 L672.8,148 Q672.8,139.8 681,139.8 L721.5,139.8" fill="none" stroke="#111" stroke-width="1.2"/>
<path d="M672.8,235 L672.8,345 Q672.8,352.8 681,352.8 L990,352.8" fill="none" stroke="#111" stroke-width="1.2"/>
<line x1="620" y1="352.8" x2="672.8" y2="352.8" stroke="#111" stroke-width="1.0"/>
<line x1="672.8" y1="352.8" x2="672.8" y2="467" stroke="#111" stroke-width="1.0"/>
<path d="M739.18,139.23 A16,16 0 0 0 717.13,161.28" fill="none" stroke="#111" stroke-width="1.2"/>
<circle cx="730.7" cy="152.8" r="8.2" fill="none" stroke="#111" stroke-width="2.3"/>
<line x1="721.509" y1="143.609" x2="739.8910000000001" y2="161.991" stroke="#111" stroke-width="0.85" stroke-dasharray="6,1.5,1.2,1.5"/>
<line x1="721.509" y1="161.991" x2="739.8910000000001" y2="143.609" stroke="#111" stroke-width="0.85" stroke-dasharray="6,1.5,1.2,1.5"/>
<path d="M717.13,309.52 A16,16 0 0 0 739.18,331.57" fill="none" stroke="#111" stroke-width="1.2"/>
<circle cx="730.7" cy="318.0" r="8.2" fill="none" stroke="#111" stroke-width="2.3"/>
<line x1="721.509" y1="308.809" x2="739.8910000000001" y2="327.191" stroke="#111" stroke-width="0.85" stroke-dasharray="6,1.5,1.2,1.5"/>
<line x1="721.509" y1="327.191" x2="739.8910000000001" y2="308.809" stroke="#111" stroke-width="0.85" stroke-dasharray="6,1.5,1.2,1.5"/>
<path d="M717.1,161.3 C718,164 717.5,166 713.85,173.03" fill="none" stroke="#111" stroke-width="1.2"/>
<path d="M717.1,309.5 C718,306.8 717.5,304.8 713.85,297.57" fill="none" stroke="#111" stroke-width="1.2"/>
<path d="M739.2,331.6 Q741,333.5 746.10,331.55" fill="none" stroke="#111" stroke-width="1.2"/>
<line x1="650" y1="235.3" x2="990" y2="235.3" stroke="#111" stroke-width="1.0" stroke-dasharray="30.6,2.4,1.8,2.4" stroke-dashoffset="24.6"/>
<line x1="643" y1="235.3" x2="697" y2="235.3" stroke="#111" stroke-width="1.0"/>
<line x1="813.5" y1="42" x2="813.5" y2="353" stroke="#111" stroke-width="1.0" stroke-dasharray="30.6,2.4,1.8,2.4" stroke-dashoffset="30.2"/>
<line x1="813.5" y1="42" x2="813.5" y2="87" stroke="#111" stroke-width="1.0"/>
<line x1="813.5" y1="353" x2="813.5" y2="418" stroke="#111" stroke-width="1.0"/>
<line x1="731" y1="128" x2="813.5" y2="235.3" stroke="#111" stroke-width="1.0"/>
<line x1="751.3" y1="107" x2="813.5" y2="235.3" stroke="#111" stroke-width="1.0"/>
<text x="0" y="0" font-size="7.2" text-anchor="start" fill="#333" stroke="#333" stroke-width="0.25" style="font-style:italic;" transform="translate(759 109.5) rotate(62) scale(0.72 1) skewX(-10)">R65</text>
<text x="0" y="0" font-size="5.3" text-anchor="start" fill="#333" stroke="#333" stroke-width="0.25" style="font-style:italic;" transform="translate(734.7 130) rotate(52) scale(0.72 1) skewX(-10)">R100</text>
<line x1="695.2" y1="301.5" x2="813.5" y2="235.3" stroke="#111" stroke-width="1.0"/>
<text x="0" y="0" font-size="5.5" text-anchor="start" fill="#333" stroke="#333" stroke-width="0.25" style="font-style:italic;" transform="translate(697.5 298.8) rotate(-29) scale(0.75 1) skewX(-10)">R65</text>
<polygon points="711.4,292.6 714.86,289.56 715.82,291.31" fill="#111"/>
<line x1="663" y1="130" x2="680" y2="148" stroke="#111" stroke-width="1.0"/>
<text x="0" y="0" font-size="5" text-anchor="start" fill="#333" stroke="#333" stroke-width="0.25" style="font-style:italic;" transform="translate(667 130) rotate(50) scale(0.75 1) skewX(-10)">R10</text>
<line x1="813.5" y1="235.3" x2="716" y2="333" stroke="#111" stroke-width="0.8" stroke-dasharray="10,2.5,1.5,2.5"/>
<line x1="781.8" y1="267.5" x2="788.8" y2="261" stroke="#111" stroke-width="1.8"/>
<line x1="798.4" y1="273.3" x2="786" y2="262.5" stroke="#111" stroke-width="1.0"/>
<polygon points="786,262.5 790.16,264.66 788.37,266.54" fill="#111"/>
<text x="0" y="0" font-size="9" text-anchor="start" fill="#333" stroke="#333" stroke-width="0.25" style="" transform="translate(799.5 266) scale(0.72 1)">C</text>
<line x1="679.2" y1="369.7" x2="686.6" y2="362.8" stroke="#111" stroke-width="1.8"/>
<line x1="693" y1="379.8" x2="680.5" y2="370.5" stroke="#111" stroke-width="1.0"/>
<polygon points="680.5,370.5 684.88,372.16 683.32,374.24" fill="#111"/>
<text x="0" y="0" font-size="9" text-anchor="start" fill="#333" stroke="#333" stroke-width="0.25" style="" transform="translate(673.5 392) scale(0.72 1)">C</text>
<path d="M770.5,278.5 A60.5,60.5 0 0 0 813.5,295.8" fill="none" stroke="#111" stroke-width="1.0"/>
<text x="0" y="0" font-size="5.5" text-anchor="start" fill="#333" stroke="#333" stroke-width="0.25" style="font-style:italic;" transform="translate(788.5 289.5) rotate(-12) scale(0.8 1) skewX(-10)">45°</text>
<line x1="806" y1="295.8" x2="813.5" y2="295.8" stroke="#111" stroke-width="1.2"/>
<line x1="813.5" y1="231.3" x2="833" y2="231.3" stroke="#111" stroke-width="1.0"/>
<line x1="829.7" y1="220" x2="829.7" y2="243" stroke="#111" stroke-width="1.0"/>
<polygon points="829.7,231.3 828.70,227.80 830.70,227.80" fill="#111"/>
<polygon points="829.7,235.3 830.70,238.80 828.70,238.80" fill="#111"/>
<text x="0" y="0" font-size="3.8" text-anchor="start" fill="#333" stroke="#333" stroke-width="0.25" style="font-style:italic;" transform="translate(826 226) rotate(-90) scale(0.82 1) skewX(-10)">5</text>
<line x1="874.3" y1="135.3" x2="889.7" y2="107.7" stroke="#111" stroke-width="1.0"/>
<line x1="889.7" y1="107.7" x2="909.5" y2="151" stroke="#111" stroke-width="1.0"/>
<line x1="889.7" y1="107.7" x2="921.4" y2="107.7" stroke="#111" stroke-width="1.0"/>
<text x="0" y="0" font-size="7.8" text-anchor="start" fill="#333" stroke="#333" stroke-width="0.25" style="font-style:italic;" transform="translate(898 103.8) scale(0.7 1) skewX(-10)">R15</text>
<line x1="929.4" y1="111.4" x2="954.6" y2="79" stroke="#111" stroke-width="1.0"/>
<line x1="954.6" y1="79" x2="1000" y2="79" stroke="#111" stroke-width="1.0"/>
<g><polyline points="960.6,75.5 963,79 968.2,71.2 986.2,71.2" fill="none" stroke="#222" stroke-width="0.9"/><text x="0" y="0" font-size="4.9" style="font-style:italic" fill="#333" stroke="#333" stroke-width="0.2" transform="translate(968 77.1) scale(0.9 1) skewX(-10)">Ra 6,3</text></g>
<line x1="954.4" y1="135" x2="991.6" y2="135" stroke="#111" stroke-width="1.0"/>
<line x1="988.4" y1="135" x2="988.4" y2="352.8" stroke="#111" stroke-width="1.0"/>
<polygon points="988.4,135 989.35,139.60 987.45,139.60" fill="#111"/>
<polygon points="988.4,352.8 987.45,348.20 989.35,348.20" fill="#111"/>
<text x="0" y="0" font-size="5" text-anchor="middle" fill="#333" stroke="#333" stroke-width="0.25" style="font-style:italic;" transform="translate(987 240) rotate(-90) scale(0.86 1) skewX(-10)">170</text>
<line x1="912.4" y1="311" x2="907" y2="356" stroke="#111" stroke-width="1.0"/>
<line x1="881" y1="356" x2="907" y2="356" stroke="#111" stroke-width="1.0"/>
<text x="0" y="0" font-size="7.8" text-anchor="start" fill="#333" stroke="#333" stroke-width="0.25" style="font-style:italic;" transform="translate(884 354) scale(0.7 1) skewX(-10)">R15</text>
<line x1="719" y1="333" x2="716" y2="367.5" stroke="#111" stroke-width="1.0"/>
<line x1="697" y1="367.5" x2="716" y2="367.5" stroke="#111" stroke-width="1.0"/>
<text x="0" y="0" font-size="7.8" text-anchor="start" fill="#333" stroke="#333" stroke-width="0.25" style="font-style:italic;" transform="translate(697 365) scale(0.7 1) skewX(-10)">R25</text>
<line x1="744" y1="332" x2="741" y2="367.5" stroke="#111" stroke-width="1.0"/>
<line x1="720" y1="367.5" x2="741" y2="367.5" stroke="#111" stroke-width="1.0"/>
<text x="0" y="0" font-size="7.8" text-anchor="start" fill="#333" stroke="#333" stroke-width="0.25" style="font-style:italic;" transform="translate(721.5 365) scale(0.7 1) skewX(-10)">R15</text>
<line x1="787.3" y1="376.2" x2="910" y2="376.2" stroke="#111" stroke-width="1.0"/>
<text x="0" y="0" font-size="8.3" text-anchor="start" fill="#333" stroke="#333" stroke-width="0.25" style="font-style:italic;" transform="translate(794 373.8) scale(0.83 1) skewX(-10)">250</text>
<line x1="913.6" y1="376.2" x2="947.8" y2="376.2" stroke="#111" stroke-width="1.0"/>
<polygon points="921.4,376.2 917.40,377.30 917.40,375.10" fill="#111"/>
<polygon points="929.4,376.2 933.40,375.10 933.40,377.30" fill="#111"/>
<text x="0" y="0" font-size="4.5" text-anchor="start" fill="#333" stroke="#333" stroke-width="0.25" style="font-style:italic;" transform="translate(931 374) scale(0.8 1) skewX(-10)">10min</text>
<line x1="921.4" y1="312" x2="921.4" y2="418" stroke="#111" stroke-width="1.0"/>
<line x1="813.5" y1="415.4" x2="921.4" y2="415.4" stroke="#111" stroke-width="1.0"/>
<polygon points="813.5,415.4 818.10,414.45 818.10,416.35" fill="#111"/>
<polygon points="921.4,415.4 916.80,416.35 916.80,414.45" fill="#111"/>
<text x="0" y="0" font-size="4.8" text-anchor="middle" fill="#333" stroke="#333" stroke-width="0.25" style="font-style:italic;" transform="translate(862 413) scale(0.8 1) skewX(-10)">163±0,5</text>
<line x1="807.4" y1="438" x2="929.4" y2="438" stroke="#111" stroke-width="1.0"/>
<polygon points="929.4,438 924.80,438.95 924.80,437.05" fill="#111"/>
<text x="0" y="0" font-size="4.8" text-anchor="middle" fill="#333" stroke="#333" stroke-width="0.25" style="font-style:italic;" transform="translate(867 436) scale(0.86 1) skewX(-10)">287</text>
<line x1="672.8" y1="457.9" x2="954.4" y2="457.9" stroke="#111" stroke-width="1.0"/>
<polygon points="672.8,457.9 677.40,456.95 677.40,458.85" fill="#111"/>
<polygon points="954.4,457.9 949.80,458.85 949.80,456.95" fill="#111"/>
<text x="0" y="0" font-size="4.8" text-anchor="middle" fill="#333" stroke="#333" stroke-width="0.25" style="font-style:italic;" transform="translate(814 456) scale(0.86 1) skewX(-10)">349</text>
<line x1="954.4" y1="352.8" x2="954.4" y2="461" stroke="#111" stroke-width="1.0"/></svg></body></html>
